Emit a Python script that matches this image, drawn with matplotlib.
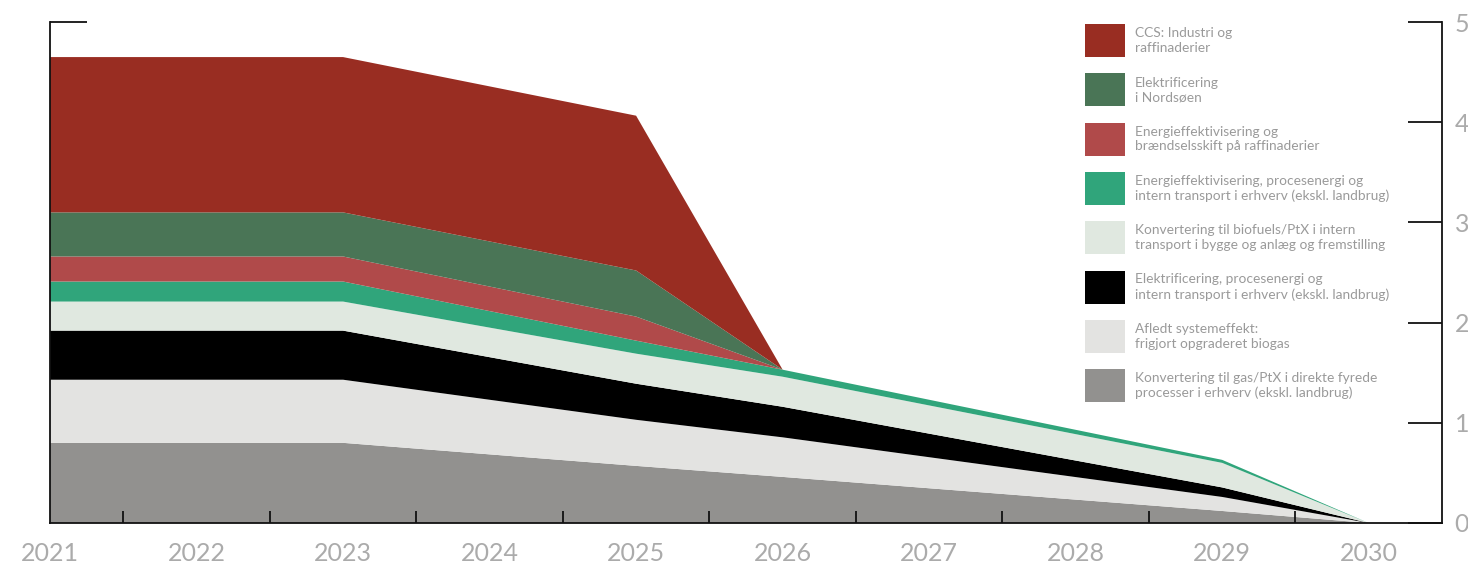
"""
Stacked area chart: reduction paths per measure, 2021-2030.
"""

import matplotlib
matplotlib.use('Agg')
import matplotlib.pyplot as plt
from matplotlib.patches import Rectangle


YEARS = [2021, 2023, 2025, 2026, 2029, 2030]

# layer thicknesses, bottom to top
GAS_PTX = [0.80, 0.80, 0.57, 0.46, 0.12, 0.0]
BIOGAS = [0.63, 0.63, 0.46, 0.395, 0.14, 0.0]
ELEKTRIFICERING = [0.49, 0.49, 0.36, 0.305, 0.095, 0.0]
BIOFUELS = [0.29, 0.29, 0.30, 0.30, 0.245, 0.0]
ENERGIEFF_ERHVERV = [0.20, 0.20, 0.13, 0.07, 0.03, 0.0]
ENERGIEFF_RAFF = [0.25, 0.25, 0.24, 0.0, 0.0, 0.0]
NORDSOEN = [0.44, 0.44, 0.46, 0.0, 0.0, 0.0]
CCS = [1.55, 1.55, 1.545, 0.0, 0.0, 0.0]

LABELS = [
    "Konvertering til gas/PtX i direkte fyrede\nprocesser i erhverv (ekskl. landbrug)",
    "Afledt systemeffekt:\nfrigjort opgraderet biogas",
    "Elektrificering, procesenergi og\nintern transport i erhverv (ekskl. landbrug)",
    "Konvertering til biofuels/PtX i intern\ntransport i bygge og anlæg og fremstilling",
    "Energieffektivisering, procesenergi og\nintern transport i erhverv (ekskl. landbrug)",
    "Energieffektivisering og\nbrændselsskift på raffinaderier",
    "Elektrificering\ni Nordsøen",
    "CCS: Industri og\nraffinaderier",
]

COLORS = ["#92918f", "#e3e3e1", "#000000", "#e0e8e0",
          "#30a57b", "#b04a4a", "#4a7556", "#992d22"]

X_TICKS = list(range(2021, 2031))
X_MINOR = [y + 0.5 for y in range(2021, 2030)]
Y_TICKS = [0, 1, 2, 3, 4, 5]

W, H = 1468, 564
TICK_COLOR = "#ababab"
TEXT_COLOR = "#9a9a9a"
AXIS_COLOR = "#111111"


def main():
    plt.rcParams['font.family'] = ['Lato', 'DejaVu Sans']

    fig = plt.figure(figsize=(W / 100, H / 100), dpi=100)
    ax = fig.add_axes([50 / W, 1 - 523 / H, (1442 - 50) / W, (523 - 22) / H])

    layers = [GAS_PTX, BIOGAS, ELEKTRIFICERING, BIOFUELS,
              ENERGIEFF_ERHVERV, ENERGIEFF_RAFF, NORDSOEN, CCS]
    ax.stackplot(YEARS, layers, colors=COLORS, linewidth=0)

    ax.set_xlim(2021, 2030.5)
    ax.set_ylim(0, 5)

    ax.spines['top'].set_visible(False)
    for side in ('left', 'right', 'bottom'):
        ax.spines[side].set_linewidth(1.3)
        ax.spines[side].set_color(AXIS_COLOR)

    ax.set_xticks(X_TICKS)
    ax.set_xticks(X_MINOR, minor=True)
    ax.tick_params(axis='x', which='major', length=0, pad=14,
                   labelsize=18, labelcolor=TICK_COLOR)
    ax.tick_params(axis='x', which='minor', direction='in', length=8.6,
                   width=1.3, color=AXIS_COLOR)

    ax.yaxis.tick_right()
    ax.set_yticks(Y_TICKS)
    ax.tick_params(axis='y', direction='in', length=24.5, width=1.3,
                   color=AXIS_COLOR, pad=9, labelsize=18, labelcolor=TICK_COLOR)

    # short tick at the top of the left axis
    left = ax.secondary_yaxis('left')
    left.set_yticks([5])
    left.set_yticklabels([])
    left.tick_params(direction='in', length=26.6, width=1.3, color=AXIS_COLOR)
    left.spines['left'].set_visible(False)

    # legend, top entry first
    top = 24
    step = 49.3
    for i, (label, color) in enumerate(zip(LABELS[::-1], COLORS[::-1])):
        y0 = top + i * step
        fig.add_artist(Rectangle((1085 / W, 1 - (y0 + 33) / H), 40 / W, 33 / H,
                                 transform=fig.transFigure, facecolor=color,
                                 edgecolor='none'))
        fig.text(1135 / W, 1 - (y0 + 16.5) / H, label, ha='left', va='center',
                 fontsize=9.9, color=TEXT_COLOR, linespacing=1.25)

    fig.savefig('out.png', dpi=100)
    plt.close(fig)


if __name__ == "__main__":
    main()
